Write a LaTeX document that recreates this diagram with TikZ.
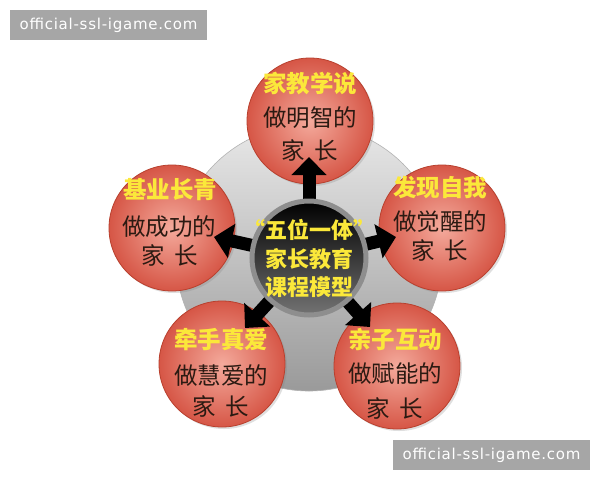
\documentclass[tikz,border=0pt]{standalone}
\usepackage{fontspec}
\newfontfamily\cjk{Noto Sans CJK SC}
\newfontfamily\wmfont{DejaVu Sans}[LetterSpace=5]
\usetikzlibrary{arrows.meta,shadows}
\definecolor{petalin}{HTML}{F4AA9C}
\definecolor{petalout}{HTML}{D65646}
\definecolor{petaledge}{HTML}{B8402E}
\definecolor{titley}{HTML}{FBE83A}
\definecolor{bodyc}{HTML}{2B1A12}
\definecolor{wmgray}{HTML}{A6A6A6}
\definecolor{bigtop}{HTML}{E8E8E8}
\definecolor{bigbot}{HTML}{9A9A9A}
\definecolor{ringgray}{HTML}{8E8E8E}
\begin{document}
\begin{tikzpicture}[x=1pt,y=-1pt,
  petal/.style={circle,minimum size=126pt,inner sep=0pt,draw=petaledge,line width=0.8pt,
    shading=radial,inner color=petalin,outer color=petalout,
    drop shadow={opacity=0.25,shadow xshift=2pt,shadow yshift=-2pt}},
  ttl/.style={text=titley,font=\cjk\bfseries\fontsize{23.5}{23.5}\selectfont,inner sep=0pt},
  body/.style={text=bodyc,font=\cjk\fontsize{23.5}{23.5}\selectfont,inner sep=0pt},
  ctr/.style={text=titley,font=\cjk\bfseries\fontsize{22}{22}\selectfont,inner sep=0pt},
  blk/.style={line width=13pt,black,-{Triangle[width=34pt,length=18pt]}},
  wmark/.style={fill=wmgray,text=white,font=\wmfont\fontsize{15}{15}\selectfont,
    minimum width=197pt,minimum height=30pt,inner sep=0pt}
]
\useasboundingbox (0,0) rectangle (600,480);
\fill[white] (0,0) rectangle (600,480);

% big gray disc
\node[circle,minimum size=266pt,inner sep=0pt,draw=gray!60,line width=0.6pt,
  top color=bigtop,bottom color=bigbot] (big) at (309,258) {};

% petals
\node[petal] (p1) at (310,121) {};
\node[petal] (p2) at (442,228) {};
\node[petal] (p3) at (397,366) {};
\node[petal] (p4) at (222,364) {};
\node[petal] (p5) at (172,228) {};

% arrows
\coordinate (cc) at (309,258);
\coordinate (t1) at (309,157);
\coordinate (t2) at (396,237);
\coordinate (t3) at (370,327);
\coordinate (t4) at (245,328);
\coordinate (t5) at (214,237);
\draw[blk] (cc) -- (t1);
\draw[blk] (cc) -- (t2);
\draw[blk] (cc) -- (t3);
\draw[blk] (cc) -- (t4);
\draw[blk] (cc) -- (t5);

% centre
\node[circle,minimum size=114pt,inner sep=0pt,draw=ringgray,line width=5pt,
  top color=black,bottom color=black!55] (c) at (cc) {};
\node[ctr] (c1) at (309,230) {“五位一体”};
\node[ctr] (c2) at (309,259) {家长教育};
\node[ctr] (c3) at (309,287) {课程模型};

% petal texts
\node[ttl]  (a1) at (310,83)  {家教学说};
\node[body] (a2) at (310,118) {做明智的};
\node[body] (a3) at (310,150) {家\hspace{10pt}长};

\node[ttl]  (b1) at (440,188) {发现自我};
\node[body] (b2) at (440,222) {做觉醒的};
\node[body] (b3) at (440,250) {家\hspace{10pt}长};

\node[ttl]  (d1) at (395,340) {亲子互动};
\node[body] (d2) at (395,374) {做赋能的};
\node[body] (d3) at (395,408) {家\hspace{10pt}长};

\node[ttl]  (e1) at (221,340) {牵手真爱};
\node[body] (e2) at (221,376) {做慧爱的};
\node[body] (e3) at (221,406) {家\hspace{10pt}长};

\node[ttl]  (f1) at (170,190) {基业长青};
\node[body] (f2) at (169,227) {做成功的};
\node[body] (f3) at (170,255) {家\hspace{10pt}长};

% watermarks
\node[wmark] (w1) at (108.5,25) {official-ssl-igame.com};
\node[wmark] (w2) at (491.5,455) {official-ssl-igame.com};
\end{tikzpicture}
\end{document}
